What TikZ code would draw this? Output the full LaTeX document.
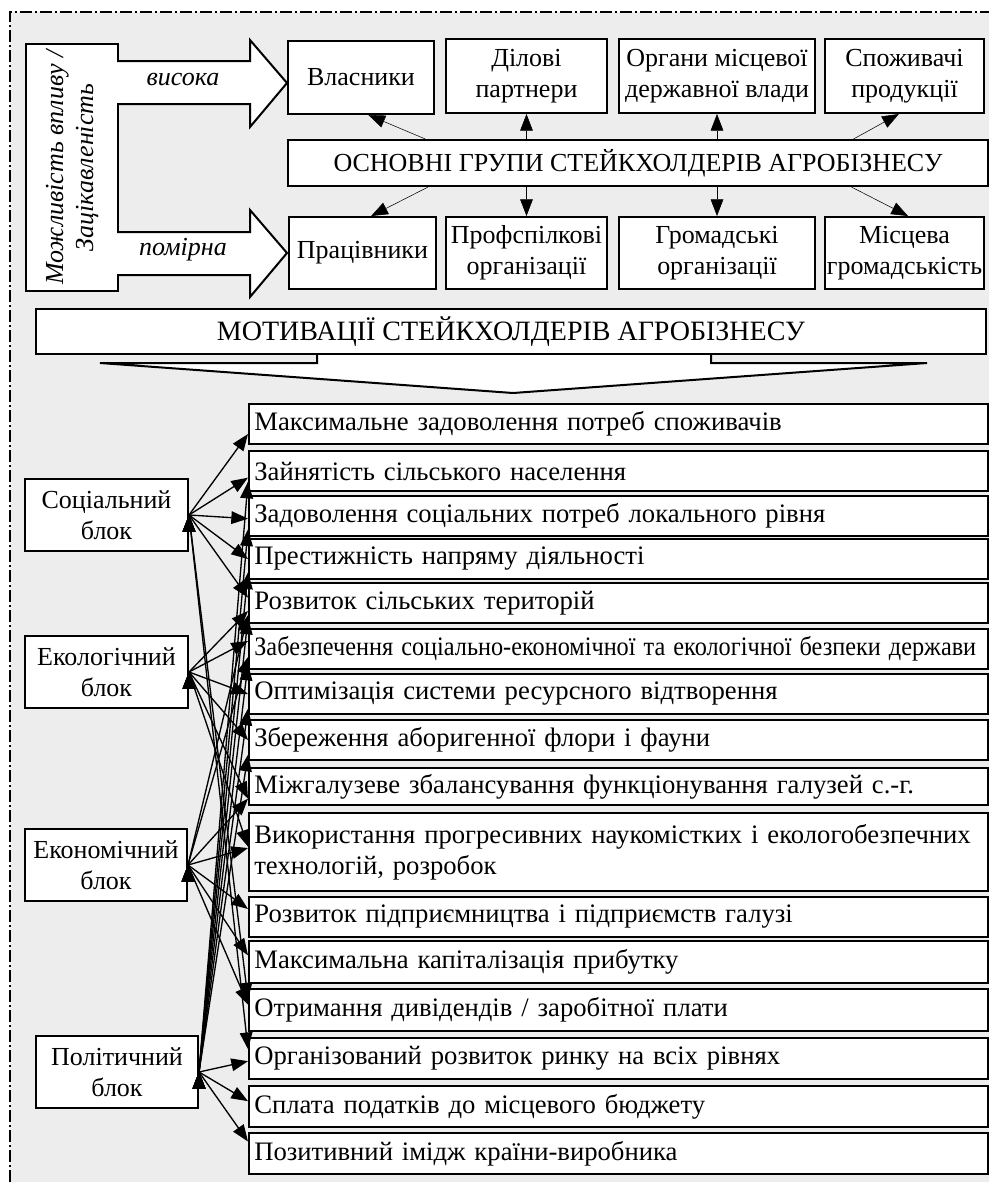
\documentclass[tikz,border=0pt]{standalone}
\usepackage{fontspec}
\setmainfont{Liberation Serif}
\usetikzlibrary{arrows.meta, positioning, calc}

\begin{document}
\begin{tikzpicture}[x=0.75pt, y=-0.75pt, >={Triangle[length=12.5pt,width=9.5pt]},
		font=\fontsize{19.5pt}{23pt}\selectfont,
		box/.style={draw, line width=1.5pt, fill=white, rectangle, anchor=north west, inner sep=0pt, align=center},
		item/.style={draw, line width=1.5pt, fill=white, rectangle, anchor=north west, inner xsep=4pt, inner ysep=0pt, text width=546pt, align=left, minimum height=30pt, font=\fontsize{20pt}{23pt}\selectfont},
		conn/.style={->, line width=1pt}]
		\useasboundingbox (0,0) rectangle (989,1182);
		% dotted background and frame
		\fill[black!7] (10,12) rectangle (989,1182);
		\draw[dash pattern=on 9pt off 2pt on 2pt off 2pt, line width=0.8pt] (10,1182) -- (10,12) -- (989,12);
		% upper part
		\node[box, minimum width=69pt, minimum height=185.25pt] (lever) at (25,43) {};
		\node[rotate=90, align=center, font=\fontsize{19.5pt}{22.5pt}\selectfont\itshape] (lever_txt) at (lever.center) {Можливість впливу /\\Зацікавленість};
		\draw[line width=1.5pt, fill=white] (117,61) -- (250,61) -- (250,40) -- (287,83) -- (250,127) -- (250,104) -- (117,104);
		\draw[line width=1.5pt, fill=white] (117,232) -- (250,232) -- (250,210) -- (287,253) -- (250,297) -- (250,275) -- (117,275);
		\node[font=\fontsize{19.5pt}{23pt}\selectfont\itshape] (high) at (183,80) {висока};
		\node[font=\fontsize{19.5pt}{23pt}\selectfont\itshape] (mid) at (183,250) {помірна};
		\node[box, minimum width=109.5pt, minimum height=54.75pt] (grp_own) at (287,40) {Власники};
		\node[box, minimum width=120.75pt, minimum height=55.5pt] (grp_part) at (445,38) {Ділові\\партнери};
		\node[box, minimum width=147pt, minimum height=55.5pt] (grp_gov) at (618,38) {Органи місцевої\\державної влади};
		\node[box, minimum width=119.25pt, minimum height=55.5pt] (grp_cons) at (824,38) {Споживачі\\продукції};
		\node[box, minimum width=525pt, minimum height=34.5pt] (grp) at (287,139) {ОСНОВНІ ГРУПИ СТЕЙКХОЛДЕРІВ АГРОБІЗНЕСУ};
		\node[box, minimum width=110.25pt, minimum height=54pt] (grp_staff) at (288,216) {Працівники};
		\node[box, minimum width=120.75pt, minimum height=54pt] (grp_union) at (445,216) {Профспілкові\\організації};
		\node[box, minimum width=147pt, minimum height=54pt] (grp_ngo) at (618,216) {Громадські\\організації};
		\node[box, minimum width=119.25pt, minimum height=54pt] (grp_comm) at (824,216) {Місцева\\громадськість};
		\draw[->] ($(grp.north west)!0.197!(grp.north east)$) -- ($(grp_own.south west)!0.55!(grp_own.south east)$);
		\draw[->] (grp.north -| grp_part) -- (grp_part.south);
		\draw[->] (grp.north -| grp_gov) -- (grp_gov.south);
		\draw[->] ($(grp.north west)!0.807!(grp.north east)$) -- ($(grp_cons.south west)!0.465!(grp_cons.south east)$);
		\draw[->] ($(grp.south west)!0.201!(grp.south east)$) -- ($(grp_staff.north west)!0.558!(grp_staff.north east)$);
		\draw[->] (grp.south -| grp_union) -- (grp_union.north);
		\draw[->] (grp.south -| grp_ngo) -- (grp_ngo.north);
		\draw[->] ($(grp.south west)!0.804!(grp.south east)$) -- ($(grp_comm.north west)!0.522!(grp_comm.north east)$);
		% motivations
		\draw[line width=1.5pt, fill=white] (317,353) -- (317,363) -- (100,363) -- (513,393) -- (927,363) -- (711,363) -- (711,353);
		\node[box, minimum width=712.5pt, minimum height=33.75pt, font=\fontsize{21pt}{24pt}\selectfont] (mot) at (35,308) {МОТИВАЦІЇ СТЕЙКХОЛДЕРІВ АГРОБІЗНЕСУ};
		\node[box, minimum width=122.25pt, minimum height=54pt] (mot_soc) at (24,478) {Соціальний\\блок};
		\node[box, minimum width=122.25pt, minimum height=54pt] (mot_eco) at (24,635) {Екологічний\\блок};
		\node[box, minimum width=121.5pt, minimum height=54pt] (mot_econ) at (24,828) {Економічний\\блок};
		\node[box, minimum width=121.5pt, minimum height=54pt] (mot_pol) at (35,1035) {Політичний\\блок};
		\node[item] (mot_1) at (248,403) {Максимальне задоволення потреб споживачів};
		\node[item] (mot_2) at (248,450) {Зайнятість сільського населення};
		\node[item] (mot_3) at (248,495) {Задоволення соціальних потреб локального рівня};
		\node[item] (mot_4) at (248,538) {Престижність напряму діяльності};
		\node[item] (mot_5) at (248,582) {Розвиток сільських територій};
		\node[item] (mot_6) at (248,628) {\scalebox{0.91}[1]{Забезпечення соціально-економічної та екологічної безпеки держави}};
		\node[item] (mot_7) at (248,673) {Оптимізація системи ресурсного відтворення};
		\node[item] (mot_8) at (248,719) {Збереження аборигенної флори і фауни};
		\node[item, minimum height=28pt] (mot_9) at (248,767) {Міжгалузеве збалансування функціонування галузей с.-г.};
		\node[item, minimum height=58.5pt] (mot_10) at (248,812) {Використання прогресивних наукомістких і екологобезпечних\\технологій, розробок};
		\node[item] (mot_11) at (248,896) {Розвиток підприємництва і підприємств галузі};
		\node[item, minimum height=31.5pt] (mot_12) at (248,940) {Максимальна капіталізація прибутку};
		\node[item, minimum height=31.5pt] (mot_13) at (248,988) {Отримання дивідендів / заробітної плати};
		\node[item, minimum height=30.75pt] (mot_14) at (248,1037) {Організований розвиток ринку на всіх рівнях};
		\node[item, minimum height=30.75pt] (mot_15) at (248,1085) {Сплата податків до місцевого бюджету};
		\node[item, minimum height=30.75pt] (mot_16) at (248,1132) {Позитивний імідж країни-виробника};
		\draw[conn] (mot_soc.east) edge ([yshift=-7.5pt]mot_1.west);
		\draw[conn] (mot_soc.east) edge ([yshift=-5pt]mot_2.west);
		\draw[conn] (mot_soc.east) edge ([yshift=-2pt]mot_3.west);
		\draw[conn] (mot_soc.east) edge (mot_4.west);
		\draw[conn] (mot_soc.east) edge ([yshift=4pt]mot_5.west);
		\draw[conn] (mot_soc.east) edge ([yshift=8pt]mot_13.west);
		\draw[conn] (mot_soc.east) edge ([yshift=7pt]mot_14.west);
		\draw[conn] (mot_eco.east) edge ([yshift=-6pt]mot_5.west);
		\draw[conn] (mot_eco.east) edge ([yshift=6pt]mot_6.west);
		\draw[conn] (mot_eco.east) edge (mot_7.west);
		\draw[conn] (mot_eco.east) edge (mot_8.west);
		\draw[conn] (mot_eco.east) edge ([yshift=-9pt]mot_9.west);
		\draw[conn] (mot_eco.east) edge ([yshift=4pt]mot_10.west);
		\draw[conn] (mot_econ.east) edge ([yshift=-9pt]mot_5.west);
		\draw[conn] (mot_econ.east) edge ([yshift=-6pt]mot_6.west);
		\draw[conn] (mot_econ.east) edge ([yshift=-9pt]mot_9.west);
		\draw[conn] (mot_econ.east) edge ([yshift=3pt]mot_10.west);
		\draw[conn] (mot_econ.east) edge ([yshift=6pt]mot_11.west);
		\draw[conn] (mot_econ.east) edge ([yshift=5pt]mot_12.west);
		\draw[conn] (mot_econ.east) edge ([yshift=4pt]mot_13.west);
		\draw[conn] (mot_pol.east) edge ([yshift=-8pt]mot_2.west);
		\draw[conn] (mot_pol.east) edge ([yshift=-10pt]mot_3.west);
		\draw[conn] (mot_pol.east) edge ([yshift=-10pt]mot_4.west);
		\draw[conn] (mot_pol.east) edge ([yshift=-11pt]mot_5.west);
		\draw[conn] (mot_pol.east) edge ([yshift=-11pt]mot_6.west);
		\draw[conn] (mot_pol.east) edge ([yshift=-11pt]mot_7.west);
		\draw[conn] (mot_pol.east) edge ([yshift=-11pt]mot_8.west);
		\draw[conn] (mot_pol.east) edge ([yshift=-2pt]mot_14.west);
		\draw[conn] (mot_pol.east) edge ([yshift=4pt]mot_15.west);
		\draw[conn] (mot_pol.east) edge ([yshift=9pt]mot_16.west);
	\end{tikzpicture}
\end{document}
